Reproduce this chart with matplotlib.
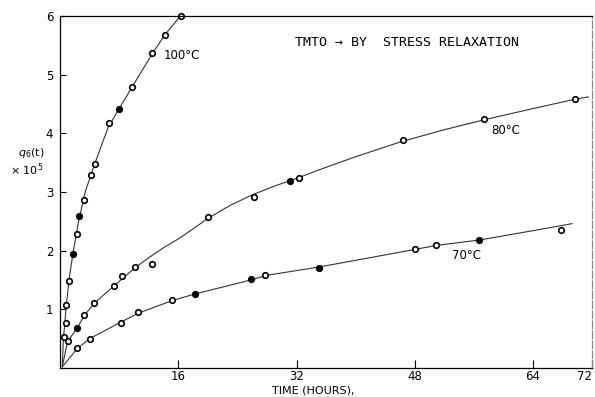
import numpy as np
import matplotlib.pyplot as plt

# measured points (hours, q x 10^5)
t_100 = [0.5, 0.74, 0.74, 1.19, 1.78, 2.27, 2.59, 3.2, 4.16, 4.79, 6.68, 7.94, 9.74, 12.48, 14.2, 16.3]
q_100 = [0.53, 0.76, 1.07, 1.48, 1.94, 2.28, 2.59, 2.86, 3.29, 3.47, 4.17, 4.41, 4.78, 5.36, 5.68, 6.0]
fill_100 = [False, False, False, False, True, False, True, False, False, False, False, True, False, False, False, False]

t_80 = [1.05, 2.32, 3.2, 4.56, 7.31, 8.34, 10.15, 12.48, 20.0, 26.25, 31.1, 32.3, 46.4, 57.4, 69.7]
q_80 = [0.46, 0.68, 0.90, 1.10, 1.40, 1.56, 1.72, 1.77, 2.58, 2.92, 3.18, 3.24, 3.88, 4.24, 4.58]
fill_80 = [False, True, False, False, False, False, False, False, False, False, True, False, False, False, False]

t_70 = [2.23, 4.02, 8.2, 10.55, 15.2, 18.2, 25.8, 27.8, 35.1, 48.0, 50.9, 56.7, 67.8]
q_70 = [0.34, 0.49, 0.77, 0.96, 1.16, 1.26, 1.52, 1.58, 1.70, 2.03, 2.10, 2.18, 2.35]
fill_70 = [False, False, False, False, False, True, True, False, True, False, False, True, False]

# hand-drawn smooth curves
ct_100 = [0.3, 0.45, 0.8, 1.2, 1.8, 2.5, 3.4, 4.6, 6.5, 8.0, 9.8, 12.5, 14.2, 16.3]
cq_100 = [0.02, 0.5, 1.0, 1.5, 2.0, 2.5, 3.0, 3.45, 4.1, 4.42, 4.8, 5.36, 5.68, 6.0]

ct_80 = [0.3, 1.0, 2.3, 3.3, 4.6, 7.3, 10.15, 12.0, 14.0, 16.0, 18.0, 20.0, 23.0, 26.0, 29.0,
         32.0, 36.0, 40.0, 46.0, 52.0, 57.4, 64.0, 69.7, 71.5]
cq_80 = [0.02, 0.45, 0.68, 0.9, 1.1, 1.4, 1.71, 1.88, 2.05, 2.2, 2.37, 2.55, 2.77, 2.95, 3.1,
         3.23, 3.42, 3.6, 3.85, 4.06, 4.23, 4.42, 4.58, 4.62]

ct_70 = [0.3, 2.3, 4.0, 8.2, 10.5, 15.2, 18.2, 25.8, 28.0, 35.0, 48.0, 51.0, 56.7, 64.0, 69.3]
cq_70 = [0.02, 0.33, 0.5, 0.78, 0.93, 1.15, 1.26, 1.5, 1.58, 1.72, 2.02, 2.09, 2.18, 2.34, 2.46]

xticks = [16, 32, 48, 64, 72]
yticks = [1, 2, 3, 4, 5, 6]

fig = plt.figure(figsize=(5.95, 3.97), dpi=100)
ax = fig.add_axes([0.101, 0.073, 0.894, 0.887])

for ct, cq in [(ct_100, cq_100), (ct_80, cq_80), (ct_70, cq_70)]:
    ax.plot(ct, cq, color='#333333', linewidth=0.8)

for t, q, f in [(t_100, q_100, fill_100), (t_80, q_80, fill_80), (t_70, q_70, fill_70)]:
    t = np.array(t); q = np.array(q); f = np.array(f)
    ax.plot(t[~f], q[~f], 'o', ms=4, mfc='white', mec='black', mew=1.2, clip_on=False)
    ax.plot(t[f], q[f], 'o', ms=4, mfc='black', mec='black', mew=1.2, clip_on=False)

ax.set_xlim(0, 72)
ax.set_ylim(0, 6)
ax.set_xticks(xticks)
ax.set_xticklabels([str(v) for v in xticks])
ax.get_xticklabels()[-1].set_horizontalalignment('right')
ax.set_yticks(yticks)
ax.tick_params(direction='in', length=6, width=0.8, labelsize=8.5)
ax.tick_params(axis='x', pad=1.5)
ax.tick_params(axis='y', length=4, pad=5)
for s in ax.spines.values():
    s.set_linewidth(0.9)
ax.spines['right'].set_color('#888888')
ax.spines['right'].set_linestyle((0, (6, 2)))

ax.text(14.0, 5.33, '100°C', fontsize=8.5, va='center', ha='left')
ax.text(58.4, 4.05, '80°C', fontsize=8.5, va='center', ha='left')
ax.text(53.0, 1.91, '70°C', fontsize=8.5, va='center', ha='left')
ax.text(46.9, 5.54, 'TMTO → BY  STRESS RELAXATION', fontsize=9.5,
        family='DejaVu Sans Mono', ha='center', va='center')

fig.text(0.526, 0.016, 'TIME (HOURS),', fontsize=8, ha='center', va='center')
fig.text(0.03, 0.615, '$q_6$(t)', fontsize=8, ha='left', va='center')
fig.text(0.017, 0.572, '× 10$^5$', fontsize=8, ha='left', va='center')

fig.savefig('out.png', dpi=100)
